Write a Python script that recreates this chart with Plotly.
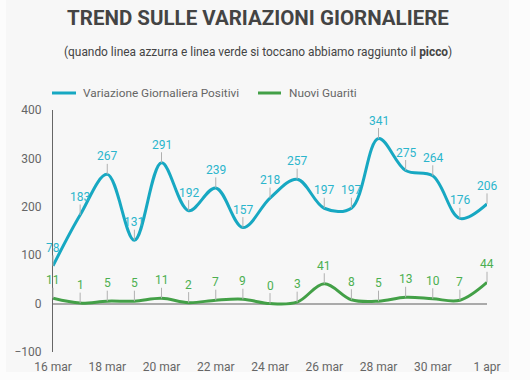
import plotly.graph_objects as go

dates = ["16 mar", "17 mar", "18 mar", "19 mar", "20 mar", "21 mar", "22 mar", "23 mar",
         "24 mar", "25 mar", "26 mar", "27 mar", "28 mar", "29 mar", "30 mar", "31 mar", "1 apr"]
positivi = [78, 183, 267, 131, 291, 192, 239, 157, 218, 257, 197, 197, 341, 275, 264, 176, 206]
guariti = [11, 1, 5, 5, 11, 2, 7, 9, 0, 3, 41, 8, 5, 13, 10, 7, 44]
tick_labels = dates[::2]
y_ticks = [-100, 0, 100, 200, 300, 400]
series_names = ["Variazione Giornaliera Positivi", "Nuovi Guariti"]

BLUE = "#17a8c2"
BLUE_TXT = "#2bb5cc"
GREEN = "#43a047"
GREEN_TXT = "#4caf50"
FONT = "Roboto"

L, R, T, B = 53, 43, 110, 28
W, H = 530, 380
PW, PH = W - L - R, H - T - B


def px(xp):
    return (xp - L) / PW


def py(yp):
    return (H - B - yp) / PH


fig = go.Figure()
fig.add_trace(go.Scatter(x=dates, y=positivi, mode="lines", name=series_names[0], showlegend=False,
                         line=dict(color=BLUE, width=3, shape="spline", smoothing=1.0)))
fig.add_trace(go.Scatter(x=dates, y=guariti, mode="lines", name=series_names[1], showlegend=False,
                         line=dict(color=GREEN, width=3, shape="spline", smoothing=1.0)))

annotations = []
for d, v in zip(dates, positivi):
    annotations.append(dict(x=d, y=v, xref="x", yref="y", text=str(v), showarrow=True,
                            arrowhead=0, arrowwidth=1, arrowcolor="#b0b0b0", ax=0, ay=-18,
                            font=dict(family=FONT, size=12, color=BLUE_TXT), borderpad=0))
for d, v in zip(dates, guariti):
    annotations.append(dict(x=d, y=v, xref="x", yref="y", text=str(v), showarrow=True,
                            arrowhead=0, arrowwidth=1, arrowcolor="#b0b0b0", ax=0, ay=-18,
                            font=dict(family=FONT, size=12, color=GREEN_TXT), borderpad=0))

annotations.append(dict(x=px(258), y=py(43), xref="paper", yref="paper", showarrow=False,
                        text="(quando linea azzurra e linea verde si toccano abbiamo raggiunto il <b>picco</b>)",
                        font=dict(family=FONT, size=11.9, color="#444444")))

# background panel
shapes = [dict(type="rect", xref="paper", yref="paper", x0=px(6), x1=px(509), y0=py(372), y1=py(0),
               fillcolor="#f7f7f7", line=dict(width=0), layer="below")]

# custom legend
legend_items = [(52, 76, 81, series_names[0], BLUE), (258, 281, 287, series_names[1], GREEN)]
for x0, x1, xt, name, col in legend_items:
    shapes.append(dict(type="line", xref="paper", yref="paper", x0=px(x0), x1=px(x1),
                       y0=py(93), y1=py(93), line=dict(color=col, width=3)))
    annotations.append(dict(x=px(xt), y=py(93), xref="paper", yref="paper", showarrow=False,
                            xanchor="left", yanchor="middle", text=name,
                            font=dict(family=FONT, size=11.8, color="#666666")))

fig.update_layout(
    width=W, height=H,
    margin=dict(l=L, r=R, t=T, b=B),
    paper_bgcolor="#fcfcfc", plot_bgcolor="rgba(0,0,0,0)",
    font=dict(family=FONT, color="#666666"),
    title=dict(text="<b>TREND SULLE VARIAZIONI GIORNALIERE</b>", x=258 / W, xanchor="center",
               y=1 - 18 / H, yanchor="middle", font=dict(family=FONT, size=20.5, color="#444444")),
    showlegend=False,
    annotations=annotations,
    shapes=shapes,
    xaxis=dict(type="category", range=[0, 16], tickvals=tick_labels, ticktext=tick_labels,
               showgrid=False, showline=False, zeroline=False, automargin=False,
               ticks="outside", ticklen=4, tickcolor="rgba(0,0,0,0)",
               tickfont=dict(family=FONT, size=12, color="#666666")),
    yaxis=dict(range=[-100, 400], tickvals=y_ticks, showgrid=False, zeroline=True,
               zerolinecolor="#aaaaaa", zerolinewidth=1.5, automargin=False,
               showline=True, linecolor="#666666", linewidth=1, ticks="outside",
               ticklen=8, tickcolor="rgba(0,0,0,0)",
               tickfont=dict(family=FONT, size=12, color="#666666")),
)

fig.write_html("out.html", config={"displayModeBar": False},
               post_script="document.body.style.margin='0px';document.body.style.background='#fcfcfc';")
